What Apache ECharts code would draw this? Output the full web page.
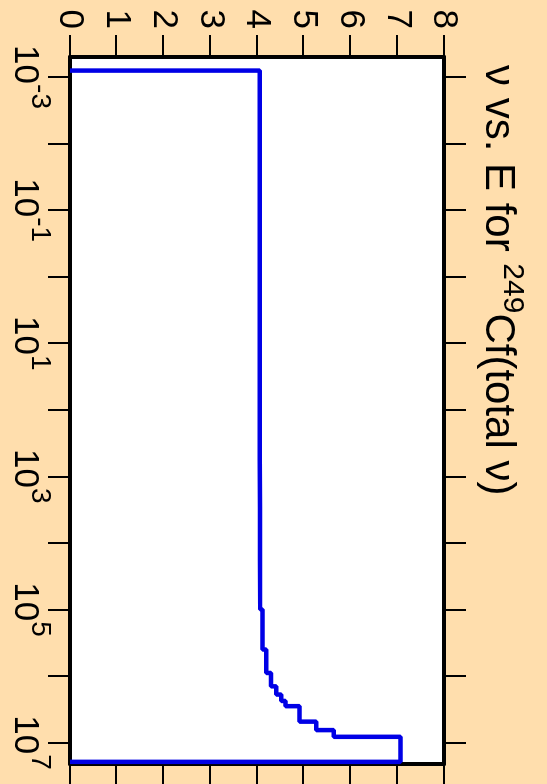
<!DOCTYPE html>
<html><head><meta charset="utf-8">
<script src="https://cdn.jsdelivr.net/npm/echarts@6/dist/echarts.min.js"></script>
<style>
html,body{margin:0;padding:0;background:#FFDEAD;overflow:hidden;width:547px;height:784px;}
#wrap{position:absolute;left:0;top:0;width:784px;height:547px;transform-origin:0 0;transform:translate(547px,0) rotate(90deg);}
</style></head><body><div id="wrap"></div>
<script>
// ---- data ----
const titleMain = 'ν vs. E for ';
const titleSup = '249';
const titleRest = 'Cf(total ν)';
// histogram bin edges (eV) and nu-bar value in each bin
const energyEdges = [8e-4, 5.5e2, 3e3, 1.8e4, 1e5, 4e5, 9e5, 1.43e6, 1.9e6, 2.37e6, 2.84e6, 4.85e6, 6.5e6, 8.2e6, 1.95e7];
const nuValues    = [4.06, 4.062, 4.065, 4.07, 4.12, 4.20, 4.30, 4.41, 4.52, 4.61, 4.91, 5.27, 5.64, 7.07];
const energyMin = 5e-4, energyMax = 2.1e7;
const energyTickExponents  = [-3, -2, -1, 0, 1, 2, 3, 4, 5, 6, 7];
const energyLabelExponents = [-3, -1, 1, 3, 5, 7];
const nuMin = 0, nuMax = 8, nuStep = 1;

// ---- build ----
const L = Math.log10;
const pts = [[L(energyEdges[0]), 0]];
nuValues.forEach((v, i) => pts.push([L(energyEdges[i]), v]));
pts.push([L(energyEdges[energyEdges.length - 1]), 0]);

const FONT = 'Liberation Sans, Arial, Helvetica, sans-serif';
const frame = { show: true, onZero: false, lineStyle: { color: '#000', width: 4 } };
const tickOut = (len) => ({ show: true, inside: false, length: len, lineStyle: { color: '#000', width: 2 } });

const chart = echarts.init(document.getElementById('wrap'), null, { width: 784, height: 547, renderer: 'canvas' });
chart.setOption({
  backgroundColor: '#FFDEAD',
  animation: false,
  title: {
    left: 60, top: 15,
    text: '{a|' + titleMain + '}{b|' + titleSup + '}{a|' + titleRest + '}',
    textStyle: {
      fontFamily: FONT, color: '#000', fontWeight: 'normal',
      rich: {
        a: { fontFamily: FONT, fontSize: 42, lineHeight: 59, color: '#000' },
        b: { fontFamily: FONT, fontSize: 30, lineHeight: 30, verticalAlign: 'top', color: '#000' }
      }
    }
  },
  grid: { left: 57, right: 20, top: 103, bottom: 70, show: true, backgroundColor: '#ffffff', borderWidth: 0, containLabel: false, outerBoundsMode: 'none' },
  xAxis: [
    {
      type: 'value', position: 'bottom', min: L(energyMin), max: L(energyMax),
      axisLine: frame,
      axisTick: Object.assign(tickOut(22), { customValues: energyTickExponents }),
      splitLine: { show: false },
      axisLabel: {
        show: true, margin: 16, customValues: energyLabelExponents,
        formatter: (v) => '{a|10}{b|' + Math.round(v) + '}',
        rich: {
          a: { fontFamily: FONT, fontSize: 35, lineHeight: 58, color: '#000' },
          b: { fontFamily: FONT, fontSize: 28, lineHeight: 28, verticalAlign: 'top', color: '#000' }
        }
      }
    },
    {
      type: 'value', position: 'top', min: L(energyMin), max: L(energyMax),
      axisLine: frame,
      axisTick: Object.assign(tickOut(22), { customValues: energyTickExponents }),
      splitLine: { show: false },
      axisLabel: { show: false }
    }
  ],
  yAxis: [
    {
      type: 'value', position: 'left', min: nuMin, max: nuMax, interval: nuStep,
      axisLine: frame, axisTick: tickOut(22), splitLine: { show: false },
      axisLabel: { show: true, margin: 28, fontFamily: FONT, fontSize: 35, color: '#000' }
    },
    {
      type: 'value', position: 'right', min: nuMin, max: nuMax, interval: nuStep,
      axisLine: frame, axisTick: tickOut(22), splitLine: { show: false },
      axisLabel: { show: false }
    }
  ],
  series: [{
    type: 'line', xAxisIndex: 0, yAxisIndex: 0, step: 'end', symbol: 'none',
    lineStyle: { color: '#0000E6', width: 4.5 },
    data: pts, z: 5
  }]
});
</script></body></html>
